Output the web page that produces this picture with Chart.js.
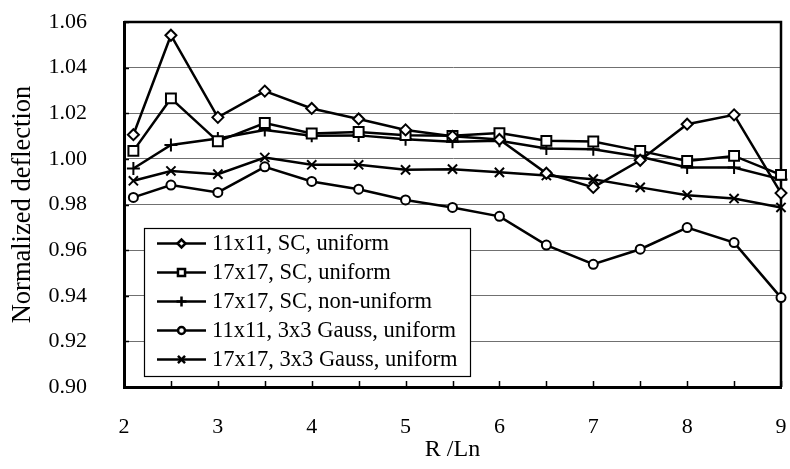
<!DOCTYPE html>
<html>
<head>
<meta charset="utf-8">
<script src="https://cdn.jsdelivr.net/npm/chart.js@4/dist/chart.umd.min.js"></script>
<style>
    html, body { margin: 0; padding: 0; background: #ffffff; overflow: hidden; }
    #wrap { width: 790px; height: 469px; }
</style>
</head>
<body>
<div id="wrap"><canvas id="grafico" width="790" height="469"></canvas></div>
<script>
// Valores de R/Ln y deflexión normalizada por malla
const radios = [2.1, 2.5, 3, 3.5, 4, 4.5, 5, 5.5, 6, 6.5, 7, 7.5, 8, 8.5, 9];

const sc11Uniforme = [1.0106, 1.0542, 1.0182, 1.0297, 1.0221, 1.0175, 1.0127, 1.0099, 1.0085, 0.9937, 0.9875, 0.9994, 1.0152, 1.0193, 0.9850];
const sc17Uniforme = [1.0035, 1.0265, 1.0077, 1.0157, 1.0111, 1.0118, 1.0104, 1.0101, 1.0113, 1.0079, 1.0076, 1.0035, 0.9991, 1.0013, 0.9930];
const sc17NoUniforme = [0.9958, 1.0061, 1.0089, 1.0127, 1.0101, 1.0103, 1.0086, 1.0075, 1.0079, 1.0046, 1.0042, 1.0009, 0.9962, 0.9962, 0.9910];
const gauss11Uniforme = [0.9831, 0.9885, 0.9853, 0.9965, 0.9901, 0.9867, 0.9820, 0.9787, 0.9748, 0.9622, 0.9538, 0.9604, 0.9699, 0.9633, 0.9392];
const gauss17Uniforme = [0.9904, 0.9947, 0.9933, 1.0006, 0.9974, 0.9974, 0.9952, 0.9955, 0.9941, 0.9927, 0.9911, 0.9875, 0.9841, 0.9826, 0.9787];

const etiquetas = [
    '11x11, SC, uniform',
    '17x17, SC, uniform',
    '17x17, SC, non-uniform',
    '11x11, 3x3 Gauss, uniform',
    '17x17, 3x3 Gauss, uniform'
];

const FUENTE = "'Times New Roman', 'Liberation Serif', serif";

function serie(valores) {
    return valores.map((v, i) => ({ x: radios[i], y: v }));
}

function dataset(label, valores, estilo, radio, radioLeyenda) {
    return {
        label: label,
        data: serie(valores),
        borderColor: '#000000',
        borderWidth: 2.5,
        backgroundColor: '#ffffff',
        pointStyle: estilo,
        pointRadius: radio,
        pointBorderWidth: 2,
        pointBorderColor: '#000000',
        pointBackgroundColor: '#ffffff',
        radioLeyenda: radioLeyenda,
        tension: 0,
        clip: false
    };
}

// Marco superior/derecho y marcas de graduación hacia dentro
const marcoPlugin = {
    id: 'marco',
    beforeDatasetsDraw(chart) {
        const { ctx, chartArea: a, scales } = chart;
        ctx.save();
        ctx.strokeStyle = '#000000';
        ctx.lineWidth = 2.5;
        ctx.beginPath();
        ctx.moveTo(a.left, a.top);
        ctx.lineTo(a.right, a.top);
        ctx.lineTo(a.right, a.bottom);
        ctx.stroke();

        ctx.lineWidth = 1.5;
        ctx.beginPath();
        scales.y.ticks.forEach(t => {
            const py = Math.round(scales.y.getPixelForValue(t.value)) + 0.5;
            ctx.moveTo(a.left, py);
            ctx.lineTo(a.left + 5, py);
        });
        scales.x.ticks.forEach(t => {
            const px = Math.round(scales.x.getPixelForValue(t.value)) + 0.5;
            ctx.moveTo(px, a.bottom);
            ctx.lineTo(px, a.bottom - 6);
        });
        ctx.stroke();
        ctx.restore();
    }
};

// Leyenda con recuadro dentro del área del gráfico
const leyendaPlugin = {
    id: 'leyendaCaja',
    afterDatasetsDraw(chart) {
        const { ctx } = chart;
        const caja = { left: 144, top: 228, right: 470, bottom: 376 };
        ctx.save();
        ctx.fillStyle = '#ffffff';
        ctx.fillRect(caja.left, caja.top, caja.right - caja.left, caja.bottom - caja.top);
        ctx.strokeStyle = '#000000';
        ctx.lineWidth = 1.2;
        ctx.strokeRect(caja.left + 0.5, caja.top + 0.5, caja.right - caja.left, caja.bottom - caja.top);

        ctx.font = '22.5px ' + FUENTE;
        ctx.textBaseline = 'middle';
        ctx.textAlign = 'left';
        chart.data.datasets.forEach((ds, i) => {
            const y = 243.5 + i * 29;
            ctx.strokeStyle = ds.borderColor;
            ctx.lineWidth = 2.5;
            ctx.beginPath();
            ctx.moveTo(157, y);
            ctx.lineTo(206, y);
            ctx.stroke();
            ctx.fillStyle = '#ffffff';
            ctx.strokeStyle = '#000000';
            Chart.helpers.drawPoint(ctx, {
                pointStyle: ds.pointStyle,
                radius: ds.radioLeyenda,
                borderWidth: 2,
                rotation: 0
            }, 181.5, y);
            ctx.fillStyle = '#000000';
            ctx.fillText(ds.label, 212, y + 1);
        });
        ctx.restore();
    }
};

new Chart(document.getElementById('grafico'), {
    type: 'line',
    data: {
        datasets: [
            dataset(etiquetas[0], sc11Uniforme, 'rectRot', 5.5, 4),
            dataset(etiquetas[1], sc17Uniforme, 'rect', 7, 5),
            dataset(etiquetas[2], sc17NoUniforme, 'cross', 6.5, 5),
            dataset(etiquetas[3], gauss11Uniforme, 'circle', 4.5, 3.5),
            dataset(etiquetas[4], gauss17Uniforme, 'crossRot', 6.5, 5)
        ]
    },
    options: {
        responsive: false,
        animation: false,
        layout: { padding: { top: 22, right: 8, left: 0, bottom: 0 } },
        plugins: {
            legend: { display: false },
            tooltip: { enabled: false }
        },
        scales: {
            x: {
                type: 'linear',
                min: 2,
                max: 9,
                afterFit(scale) {
                    scale.height = 82;
                    scale.paddingLeft = 0;
                    scale.paddingRight = 0;
                },
                grid: { display: false },
                border: { display: true, color: '#000000', width: 3 },
                ticks: {
                    stepSize: 0.5,
                    autoSkip: false,
                    maxRotation: 0,
                    padding: 19,
                    color: '#000000',
                    font: { family: FUENTE, size: 22 },
                    callback: v => Number.isInteger(v) ? String(v) : ''
                },
                title: {
                    display: true,
                    text: 'R /Ln',
                    color: '#000000',
                    font: { family: FUENTE, size: 24 },
                    padding: { top: 0, bottom: 5 }
                }
            },
            y: {
                min: 0.9,
                max: 1.06,
                afterFit(scale) {
                    scale.width = 124;
                    scale.paddingTop = 0;
                    scale.paddingBottom = 0;
                },
                grid: { color: '#707070', lineWidth: 1, drawTicks: false },
                border: { display: true, color: '#000000', width: 3 },
                ticks: {
                    stepSize: 0.02,
                    padding: 37,
                    color: '#000000',
                    font: { family: FUENTE, size: 22 },
                    callback: v => v.toFixed(2)
                },
                title: {
                    display: true,
                    text: 'Normalized deflection',
                    color: '#000000',
                    font: { family: FUENTE, size: 26.5 },
                    padding: { top: 7, bottom: 0 }
                }
            }
        }
    },
    plugins: [marcoPlugin, leyendaPlugin]
});
</script>
</body>
</html>
